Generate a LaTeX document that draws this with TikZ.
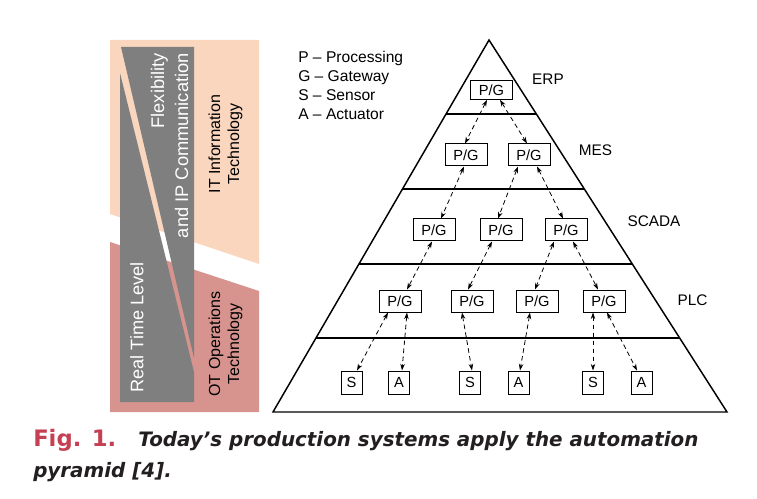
\documentclass[tikz,border=0pt]{standalone}
\usepackage{fontspec}
\setmainfont{Liberation Sans}
\newfontfamily\capfont{DejaVu Sans}
\usepackage{xcolor}
\usetikzlibrary{arrows.meta, positioning}

\definecolor{itpeach}{RGB}{250,214,190}
\definecolor{otrose}{RGB}{215,148,143}
\definecolor{rtgray}{RGB}{127,127,127}
\definecolor{figred}{RGB}{196,64,82}
\definecolor{captxt}{RGB}{35,31,32}

\tikzset{
  pyr/.style={line width=1.1pt, line join=miter},
  pg/.style={draw, line width=0.75pt, minimum width=31.5pt, minimum height=16.5pt, inner sep=0pt, font=\fontsize{11}{13}\selectfont},
  sa/.style={pg, minimum width=15.75pt, minimum height=17.25pt},
  link/.style={{Stealth[length=5pt,width=3.4pt]}-{Stealth[length=5pt,width=3.4pt]}, line width=0.6pt, dash pattern=on 3.5pt off 2.5pt},
  lyr/.style={inner sep=0pt, font=\fontsize{11.5}{13}\selectfont},
  sidetxt/.style={inner sep=0pt, rotate=90, font=\fontsize{12}{14.3}\selectfont}
}

\begin{document}
\begin{tikzpicture}[x=0.75pt,y=0.75pt,yscale=-1,xscale=1]
\useasboundingbox (0,0) rectangle (757,499);

%Shapes: IT and OT bands
\fill [itpeach] (110,40) -- (259,40) -- (259,264) -- (110,214) -- cycle;
\fill [otrose] (110,242) -- (259,291) -- (259,412) -- (110,412) -- cycle;
%Shapes: grey wedges
\fill [rtgray] (121,47) -- (194,47) -- (194,358) -- cycle;
\fill [rtgray] (120,73) -- (194,372) -- (194,402) -- (120,402) -- cycle;

% Text Node
\node [sidetxt, text=white, font=\fontsize{13.6}{16}\selectfont] (rtl) at (137,327.5) {Real Time Level};
% Text Node
\node [sidetxt, text=white, align=right, anchor=east, font=\fontsize{13.7}{18}\selectfont] (flex) at (169.5,53) {Flexibility\\and IP Communication};
% Text Node
\node [sidetxt, align=center] (itt) at (225.5,144) {IT Information\\Technology};
% Text Node
\node [sidetxt, align=center] (ott) at (225.5,344) {OT Operations\\Technology};

%Pyramid
\coordinate (apex) at (489,40);
\coordinate (bl) at (273,412);
\coordinate (br) at (727,412);
\draw [pyr] (apex) -- (bl) -- (br) -- cycle;
%Straight Lines
\draw [pyr] (446,114) -- (536.3,114);
%Straight Lines
\draw [pyr] (402.5,189) -- (584.3,189);
%Straight Lines
\draw [pyr] (358.9,264) -- (632.3,264);
%Straight Lines
\draw [pyr] (316,338) -- (679.7,338);

% Legend
\node [lyr, anchor=base west, font=\fontsize{11.7}{13}\selectfont] (legp) at (298,63) {P -- Processing};
\node [lyr, anchor=base west, font=\fontsize{11.7}{13}\selectfont] (legg) at (298,82) {G -- Gateway};
\node [lyr, anchor=base west, font=\fontsize{11.7}{13}\selectfont] (legs) at (298,101) {S -- Sensor};
\node [lyr, anchor=base west, font=\fontsize{11.7}{13}\selectfont] (lega) at (298,120) {A -- Actuator};

% Layer names
\node [lyr, anchor=base] (lerp) at (548,85) {ERP};
\node [lyr, anchor=base] (lmes) at (595.5,156) {MES};
\node [lyr, anchor=base] (lscada) at (654,227) {SCADA};
\node [lyr, anchor=base] (lplc) at (692.5,305) {PLC};

% Boxes
\node [pg, minimum height=14pt] (erp) at (491.5,90) {P/G};
\node [pg] (mes1) at (466,155) {P/G};
\node [pg] (mes2) at (529,155) {P/G};
\node [pg] (scada1) at (434,230) {P/G};
\node [pg] (scada2) at (501,230) {P/G};
\node [pg] (scada3) at (566,230) {P/G};
\node [pg] (plc1) at (400,301) {P/G};
\node [pg] (plc2) at (472,301) {P/G};
\node [pg] (plc3) at (537,301) {P/G};
\node [pg] (plc4) at (604,301) {P/G};
\node [sa] (s1) at (351.5,382.5) {S};
\node [sa] (a1) at (399,382.5) {A};
\node [sa] (s2) at (470,382.5) {S};
\node [sa] (a2) at (518.5,382.5) {A};
\node [sa] (s3) at (593,382.5) {S};
\node [sa] (a3) at (641.5,382.5) {A};

%Dashed links
\draw [link] ([shift={(-4.5,0)}]erp.south) -- ([shift={(-1,0)}]mes1.north);
\draw [link] ([shift={(8.5,0)}]erp.south) -- ([shift={(-2,0)}]mes2.north);
\draw [link] ([shift={(-2,0)}]mes1.south) -- ([shift={(7,0)}]scada1.north);
\draw [link] ([shift={(-11,0)}]mes2.south) -- ([shift={(-3,0)}]scada2.north);
\draw [link] ([shift={(8,0)}]mes2.south) -- ([shift={(-3,0)}]scada3.north);
\draw [link] ([shift={(-2,0)}]scada1.south) -- ([shift={(7,0)}]plc1.north);
\draw [link] ([shift={(-9,0)}]scada2.south) -- ([shift={(-4,0)}]plc2.north);
\draw [link] ([shift={(-12,0)}]scada3.south) -- ([shift={(-2,0)}]plc3.north);
\draw [link] ([shift={(7,0)}]scada3.south) -- ([shift={(-6,0)}]plc4.north);
\draw [link] ([shift={(-12,0)}]plc1.south) -- ([shift={(5.5,0)}]s1.north);
\draw [link] ([shift={(7,0)}]plc1.south) -- ([shift={(3,0)}]a1.north);
\draw [link] ([shift={(-10,0)}]plc2.south) -- ([shift={(2,0)}]s2.north);
\draw [link] ([shift={(-7,0)}]plc3.south) -- ([shift={(1.5,0)}]a2.north);
\draw [link] ([shift={(-11,0)}]plc4.south) -- (s3.north);
\draw [link] ([shift={(3,0)}]plc4.south) -- ([shift={(-4.5,0)}]a3.north);

% Caption
\node [anchor=base west, inner sep=0pt, text=figred, font=\capfont\bfseries\fontsize{17}{20}\selectfont] (figlbl) at (33,446) {Fig. 1.};
\node [anchor=base west, inner sep=0pt, text=captxt, font=\capfont\bfseries\itshape\fontsize{14.9}{18}\selectfont] (capa) at (138,446) {Today’s production systems apply the automation};
\node [anchor=base west, inner sep=0pt, text=captxt, font=\capfont\bfseries\itshape\fontsize{14.9}{18}\selectfont] (capb) at (33,477) {pyramid [4].};

\end{tikzpicture}
\end{document}
